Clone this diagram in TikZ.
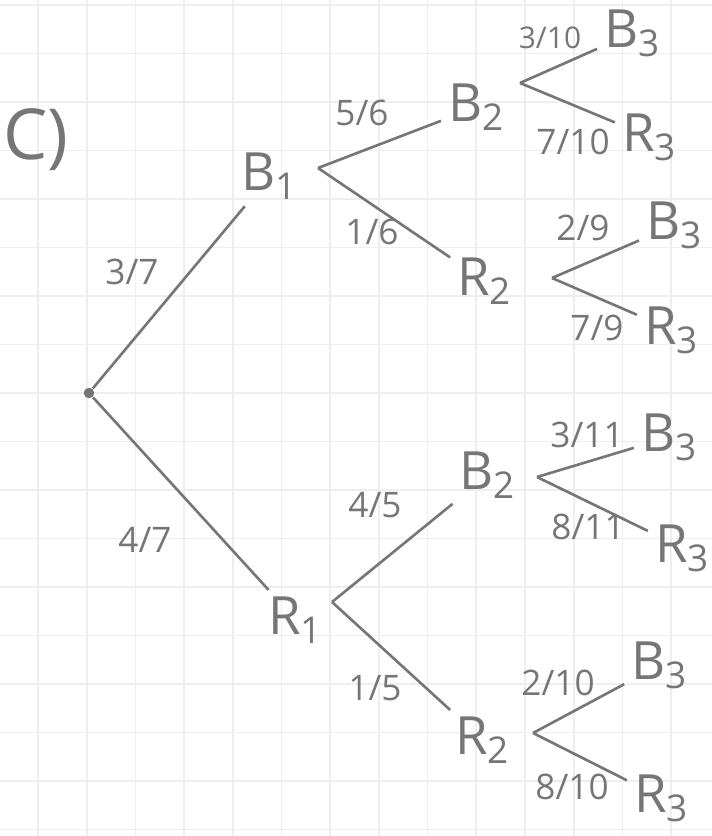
\documentclass[tikz,border=0pt]{standalone}
\usepackage{fontspec}
\setmainfont{Open Sans}
\definecolor{pencil}{HTML}{767676}
\definecolor{gridgray}{HTML}{EEEEEE}
\usetikzlibrary{positioning}

\begin{document}
\begin{tikzpicture}[x=0.01cm, y=-0.01cm,
    branch/.style={pencil, line width=0.75pt, shorten >=1pt},
    outcome/.style={text=pencil, font=\fontsize{15}{17}\selectfont, inner sep=1pt},
    prob/.style={text=pencil, font=\fontsize{10}{12}\selectfont, inner sep=0pt},
    gridline/.style={gridgray, line width=0.5pt}]
  \useasboundingbox (0,0) rectangle (712,836);
  % paper grid
  \foreach \k in {0,...,17}
    \draw[gridline] (0,5+48.5*\k) -- (712,5+48.5*\k);
  \foreach \k in {0,...,13}
    \draw[gridline] (38+48.7*\k,0) -- (38+48.7*\k,836);
  % part label
  \node[text=pencil, font=\fontsize{20}{22}\selectfont] (part) at (36,140) {C)};
  % root and first draw
  \node[circle, fill=pencil, inner sep=0pt, minimum size=3pt] (root) at (89,393) {};
  \node[outcome] (B1) at (270,176) {B\textsubscript{1}};
  \node[outcome] (R1) at (296,620) {R\textsubscript{1}};
  \node[prob] (p37) at (132,272) {3/7};
  \node[prob] (p47) at (145,540) {4/7};
  \draw[branch] (root) -- (B1);
  \draw[branch] (root) -- (R1);
  % second draw
  \coordinate (B1fork) at (318,168);
  \coordinate (R1fork) at (332,602);
  \node[outcome] (B2a) at (477,107) {B\textsubscript{2}};
  \node[outcome] (R2a) at (485,281) {R\textsubscript{2}};
  \node[outcome] (B2b) at (488,475) {B\textsubscript{2}};
  \node[outcome] (R2b) at (483,740) {R\textsubscript{2}};
  \node[prob] (p56) at (362,113) {5/6};
  \node[prob] (p16) at (372,232) {1/6};
  \node[prob] (p45) at (375,505) {4/5};
  \node[prob] (p15) at (375,688) {1/5};
  \draw[branch] (B1fork) -- (B2a);
  \draw[branch] (B1fork) -- (R2a);
  \draw[branch] (R1fork) -- (B2b);
  \draw[branch] (R1fork) -- (R2b);
  % third draw
  \coordinate (B2afork) at (520,83);
  \coordinate (R2afork) at (552,278);
  \coordinate (B2bfork) at (537,477);
  \coordinate (R2bfork) at (533,733);
  \node[outcome] (B3a) at (633,33) {B\textsubscript{3}};
  \node[outcome] (R3a) at (650,137) {R\textsubscript{3}};
  \node[outcome] (B3b) at (675,225) {B\textsubscript{3}};
  \node[outcome] (R3b) at (672,330) {R\textsubscript{3}};
  \node[outcome] (B3c) at (670,437) {B\textsubscript{3}};
  \node[outcome] (R3c) at (683,548) {R\textsubscript{3}};
  \node[outcome] (B3d) at (660,665) {B\textsubscript{3}};
  \node[outcome] (R3d) at (662,798) {R\textsubscript{3}};
  \node[prob, font=\fontsize{8.5}{10}\selectfont] (p310) at (550,38) {3/10};
  \node[prob] (p710) at (573,142) {7/10};
  \node[prob] (p29) at (583,228) {2/9};
  \node[prob] (p79) at (597,328) {7/9};
  \node[prob] (p311) at (587,435) {3/11};
  \node[prob] (p811) at (588,527) {8/11};
  \node[prob] (p210) at (558,683) {2/10};
  \node[prob] (p810) at (572,787) {8/10};
  \draw[branch] (B2afork) -- (B3a);
  \draw[branch] (B2afork) -- (R3a);
  \draw[branch] (R2afork) -- (B3b);
  \draw[branch] (R2afork) -- (R3b);
  \draw[branch] (B2bfork) -- (B3c);
  \draw[branch] (B2bfork) -- (R3c);
  \draw[branch] (R2bfork) -- (B3d);
  \draw[branch] (R2bfork) -- (R3d);
\end{tikzpicture}
\end{document}
